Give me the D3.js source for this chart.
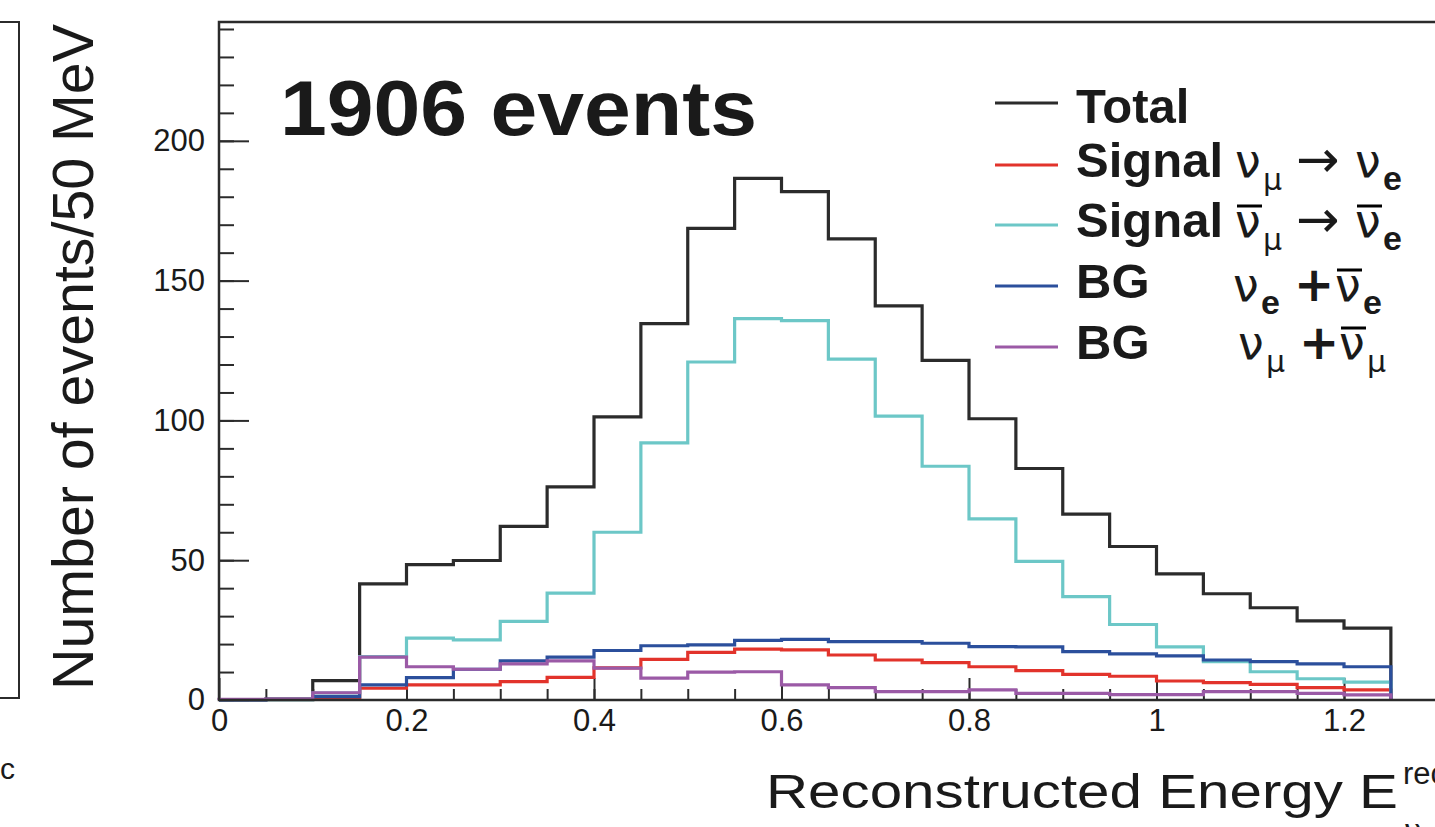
<!DOCTYPE html>
<html>
<head>
<meta charset="utf-8">
<script src="https://cdn.jsdelivr.net/npm/d3@7"></script>
<style>
  html, body { margin: 0; padding: 0; background: #fff; overflow: hidden; }
  svg { display: block; }
  text { font-family: "Liberation Sans", Arial, Helvetica, sans-serif; fill: #1a1a1a; }
  .math { font-family: "DejaVu Sans", sans-serif; }
</style>
</head>
<body>
<svg id="chart" width="1435" height="827"></svg>
<script>
// histogram bins, 50 MeV wide, lower edges in GeV
const binStarts = [0.00, 0.05, 0.10, 0.15, 0.20, 0.25, 0.30, 0.35, 0.40, 0.45, 0.50, 0.55, 0.60,
                   0.65, 0.70, 0.75, 0.80, 0.85, 0.90, 0.95, 1.00, 1.05, 1.10, 1.15, 1.20];
const binWidth = 0.05;

const totalCounts       = [0, 0.3, 6.9, 41.5, 48.4, 49.9, 62.1, 76.2, 101.3, 134.6, 168.7, 186.6, 181.8,
                           164.9, 141.0, 121.5, 100.6, 82.8, 66.5, 54.9, 45.1, 38.0, 33.0, 28.3, 25.7];
const signalNuCounts    = [0, 0.1, 0.3, 4.2, 5.4, 5.4, 6.6, 8.1, 11.5, 14.5, 17.0, 18.2, 17.9,
                           16.1, 14.3, 13.4, 11.9, 10.5, 9.2, 8.5, 6.8, 6.2, 5.6, 4.4, 3.6];
const signalNubarCounts = [0, 0, 2.5, 15.5, 22.1, 21.5, 28.1, 38.2, 60.0, 92.0, 120.9, 136.4, 135.7,
                           121.9, 101.5, 83.6, 64.8, 49.6, 37.0, 27.0, 19.0, 13.7, 10.1, 7.6, 6.4];
const bgNueCounts       = [0, 0.2, 1.2, 5.4, 8.0, 11.0, 14.0, 15.3, 17.7, 19.4, 19.7, 21.3, 21.7,
                           20.9, 20.9, 20.3, 19.1, 19.0, 17.3, 16.5, 15.8, 14.3, 13.7, 12.9, 11.9];
const bgNumuCounts      = [0.2, 0.3, 2.6, 15.3, 11.9, 11.0, 12.9, 14.0, 11.4, 7.8, 10.0, 10.1, 5.4,
                           4.4, 3.0, 3.0, 3.6, 2.4, 2.4, 1.9, 1.9, 3.0, 3.0, 2.4, 1.8];

const yTickValues = [0, 50, 100, 150, 200];
const xTickValues = [0, 0.2, 0.4, 0.6, 0.8, 1, 1.2];
const legendLabels = ['Total', 'Signal', 'Signal', 'BG', 'BG'];
const eventsLabel = '1906 events';

const series = [
  { counts: totalCounts, color: '#2b2b2b' },
  { counts: signalNuCounts, color: '#e2332b' },
  { counts: signalNubarCounts, color: '#6cc7c7' },
  { counts: bgNueCounts, color: '#2b4f9c' },
  { counts: bgNumuCounts, color: '#9b5aa6' }
];

const svg = d3.select('#chart');
const frameColor = '#2b2b2b';

const x = d3.scaleLinear().domain([0, 1.3]).range([219, 219 + 1.3 * 937.5]);
const y = d3.scaleLinear().domain([0, 242.5]).range([700, 22]);

// piece of the neighbouring panel on the far left
svg.append('path')
  .attr('d', 'M0,22H19V698H0')
  .attr('fill', 'none')
  .attr('stroke', frameColor)
  .attr('stroke-width', 2);
svg.append('text').attr('x', 0).attr('y', 779).attr('font-size', 30).text('c');

// y axis, ticks pointing inward
svg.append('g')
  .attr('transform', `translate(${x(0)},0)`)
  .call(d3.axisLeft(y).tickValues(d3.range(0, 241, 10)).tickSize(-15).tickFormat(''))
  .call(g => g.select('.domain').remove());
svg.append('g')
  .attr('transform', `translate(${x(0)},0)`)
  .call(d3.axisLeft(y).tickValues(yTickValues).tickSize(-30).tickPadding(14))
  .call(g => g.select('.domain').remove())
  .call(g => g.selectAll('text').attr('font-size', 31).attr('fill', '#1a1a1a').attr('font-family', null));

// x axis
svg.append('g')
  .attr('transform', `translate(0,${y(0)})`)
  .call(d3.axisBottom(x).tickValues(d3.range(0.05, 1.3, 0.05)).tickSize(-11).tickFormat(''))
  .call(g => g.select('.domain').remove());
svg.append('g')
  .attr('transform', `translate(0,${y(0)})`)
  .call(d3.axisBottom(x).tickValues(xTickValues).tickSize(-22).tickPadding(9).tickFormat(d3.format('~g')))
  .call(g => g.select('.domain').remove())
  .call(g => g.selectAll('text').attr('font-size', 31).attr('fill', '#1a1a1a').attr('font-family', null));

svg.selectAll('.tick line').attr('stroke', frameColor).attr('stroke-width', 2);

// histograms drawn as step outlines
const line = d3.line().x(d => x(d[0])).y(d => y(d[1]));
function stepPoints(counts) {
  const pts = [[binStarts[0], 0]];
  counts.forEach((v, i) => {
    pts.push([binStarts[i], v]);
    pts.push([binStarts[i] + binWidth, v]);
  });
  pts.push([binStarts[binStarts.length - 1] + binWidth, 0]);
  return pts;
}

svg.append('g').selectAll('path')
  .data(series)
  .join('path')
  .attr('d', d => line(stepPoints(d.counts)))
  .attr('fill', 'none')
  .attr('stroke', d => d.color)
  .attr('stroke-width', 3.2)
  .attr('stroke-linejoin', 'miter');

// frame
svg.append('path')
  .attr('d', `M1435,${y(242.5)}H${x(0)}V${y(0)}H1435`)
  .attr('fill', 'none')
  .attr('stroke', frameColor)
  .attr('stroke-width', 2.5);

// axis titles
svg.append('text')
  .attr('transform', 'translate(93,357) rotate(-90)')
  .attr('text-anchor', 'middle')
  .attr('font-size', 57)
  .attr('textLength', 666)
  .attr('lengthAdjust', 'spacingAndGlyphs')
  .text('Number of events/50 MeV');

svg.append('text')
  .attr('x', 766).attr('y', 808)
  .attr('font-size', 49)
  .attr('textLength', 632)
  .attr('lengthAdjust', 'spacingAndGlyphs')
  .text('Reconstructed Energy E');
svg.append('text').attr('x', 1403).attr('y', 784).attr('font-size', 31).text('rec');
svg.append('text').attr('class', 'math').attr('x', 1404).attr('y', 842).attr('font-size', 32).text('ν');

// event count
svg.append('text')
  .attr('x', 280).attr('y', 135)
  .attr('font-size', 77)
  .attr('font-weight', 'bold')
  .attr('fill', '#000')
  .attr('textLength', 477)
  .attr('lengthAdjust', 'spacingAndGlyphs')
  .text(eventsLabel);

// legend
const legendY = [103, 165, 225, 286, 347];
const legend = svg.append('g');
legend.selectAll('line')
  .data(series)
  .join('line')
  .attr('x1', 995).attr('x2', 1058)
  .attr('y1', (d, i) => legendY[i]).attr('y2', (d, i) => legendY[i])
  .attr('stroke', d => d.color)
  .attr('stroke-width', 3.2);

legend.selectAll('text.lab')
  .data(legendLabels)
  .join('text')
  .attr('class', 'lab')
  .attr('x', 1076)
  .attr('y', (d, i) => legendY[i] + (i === 0 ? 20 : 12))
  .attr('font-size', 49)
  .attr('font-weight', 'bold')
  .attr('fill', '#000')
  .text(d => d);

function nu(base, xPos, sub, bar) {
  legend.append('text').attr('class', 'math')
    .attr('x', xPos).attr('y', base).attr('font-size', 46).attr('fill', '#000').text('ν');
  if (bar) {
    legend.append('line')
      .attr('x1', xPos + 2).attr('x2', xPos + 27)
      .attr('y1', base - 31).attr('y2', base - 31)
      .attr('stroke', '#000').attr('stroke-width', 3);
  }
  const s = legend.append('text')
    .attr('x', xPos + 28).attr('y', base + 13)
    .attr('fill', '#000')
    .text(sub);
  if (sub === 'μ') s.attr('class', 'math').attr('font-size', 30);
  else s.attr('font-size', 34).attr('font-weight', 'bold');
}
function sym(base, xPos, ch) {
  legend.append('text').attr('class', 'math')
    .attr('x', xPos).attr('y', base)
    .attr('font-size', ch === '+' ? 48 : 52)
    .attr('font-weight', ch === '+' ? 'bold' : null)
    .attr('fill', '#000').text(ch);
}

// Signal nu_mu -> nu_e
let b = legendY[1] + 12;
nu(b, 1235, 'μ', false); sym(b, 1296, '→'); nu(b, 1355, 'e', false);
// Signal nubar_mu -> nubar_e
b = legendY[2] + 12;
nu(b, 1235, 'μ', true); sym(b, 1296, '→'); nu(b, 1355, 'e', true);
// BG nu_e + nubar_e
b = legendY[3] + 15;
nu(b, 1233, 'e', false); sym(b, 1294, '+'); nu(b, 1335, 'e', true);
// BG nu_mu + nubar_mu
b = legendY[4] + 12;
nu(b, 1238, 'μ', false); sym(b, 1299, '+'); nu(b, 1339, 'μ', true);
</script>
</body>
</html>
